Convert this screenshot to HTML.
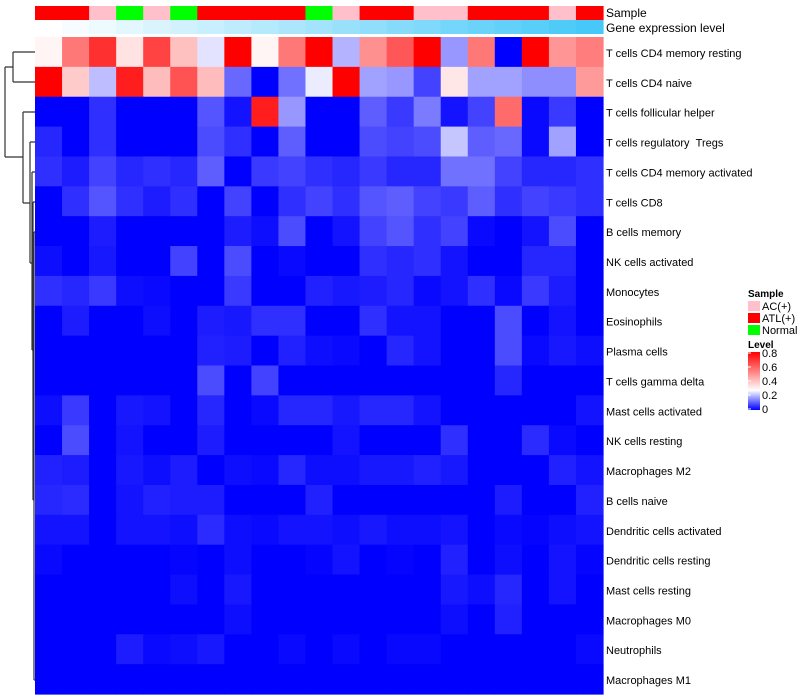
<!DOCTYPE html>
<html><head><meta charset="utf-8"><style>
html,body{margin:0;padding:0;background:#fff;}
svg{display:block;font-family:"Liberation Sans",sans-serif;}
</style></head><body>
<svg id="chart" width="800" height="700" viewBox="0 0 800 700" xmlns="http://www.w3.org/2000/svg">
<g id="dendro" stroke="#333" stroke-width="1.2" fill="none">
<path d="M13,52 H35 M13,82 H35 M13,52 V82"/>
<path d="M5,67 H13 M5,67 V157 M5,157 H23"/>
<path d="M23,112 H35 M23,112 V203 M23,203 H30"/>
<path d="M30,142 H35 M30,142 V263 M30,263 H32"/>
<path d="M32,172 H35 M32,172 V350 M32,350 H33"/>
<path d="M33,202 H35 M33,202 V500 M33,500 H34"/>
<path d="M34,232 H35 M34,232 V680 M34,680 H35"/>
</g>
<g id="cells"></g>
<g id="annot"></g>
<g id="rowlabels" font-size="11" fill="#000"></g>
<text x="606" y="17" font-size="12">Sample</text>
<text x="606" y="32" font-size="12">Gene expression level</text>
<g font-size="11">
<text x="748" y="297" font-weight="bold" font-size="10">Sample</text>
<rect x="748" y="301" width="12" height="10" fill="#FFC0CB"/>
<text x="762" y="310">AC(+)</text>
<rect x="748" y="313" width="12" height="10" fill="#FF0000"/>
<text x="762" y="322">ATL(+)</text>
<rect x="748" y="325" width="12" height="10" fill="#00FF00"/>
<text x="762" y="334">Normal</text>
<text x="748" y="348" font-weight="bold" font-size="10">Level</text>
<defs><linearGradient id="lg" x1="0" y1="1" x2="0" y2="0">
<stop offset="0" stop-color="#0000FF"/><stop offset="0.34" stop-color="#FFFFFF"/><stop offset="1" stop-color="#FF0000"/></linearGradient></defs>
<rect x="748" y="352" width="12" height="58" fill="url(#lg)"/>
<g id="cbticks"></g>
</g>
</svg>
<script>
const rowNames = ["T cells CD4 memory resting","T cells CD4 naive","T cells follicular helper","T cells regulatory  Tregs","T cells CD4 memory activated","T cells CD8","B cells memory","NK cells activated","Monocytes","Eosinophils","Plasma cells","T cells gamma delta","Mast cells activated","NK cells resting","Macrophages M2","B cells naive","Dendritic cells activated","Dendritic cells resting","Mast cells resting","Macrophages M0","Neutrophils","Macrophages M1"];
const sampleGroups = ["ATL(+)","ATL(+)","AC(+)","Normal","AC(+)","Normal","ATL(+)","ATL(+)","ATL(+)","ATL(+)","Normal","AC(+)","ATL(+)","ATL(+)","AC(+)","AC(+)","ATL(+)","ATL(+)","ATL(+)","AC(+)","ATL(+)"];
const geneLevel = [0,1,2,3,4,5,6,7,8,9,10,11,12,13,14,15,16,17,18,19,20];
const levelTicks = [0,0.2,0.4,0.6,0.8];
const cellValues = [
[0.29,0.55,0.7,0.33,0.66,0.4,0.24,0.8,0.29,0.55,0.8,0.19,0.5,0.62,0.8,0.16,0.55,0,0.8,0.49,0.54],
[0.8,0.38,0.2,0.74,0.41,0.63,0.41,0.11,0,0.12,0.25,0.8,0.17,0.16,0.07,0.32,0.17,0.17,0.15,0.15,0.48],
[0,0,0.05,0,0,0,0.09,0.02,0.74,0.16,0,0,0.1,0.06,0.13,0.02,0.07,0.58,0.01,0.06,0],
[0.04,0,0.05,0,0,0,0.08,0.05,0,0.1,0,0,0.08,0.07,0.08,0.21,0.1,0.11,0.01,0.17,0],
[0.05,0.03,0.07,0.04,0.05,0.04,0.1,0,0.06,0.07,0.05,0.04,0.06,0.04,0.04,0.12,0.12,0.07,0.04,0.04,0.05],
[0,0.05,0.09,0.05,0.03,0.05,0,0.07,0,0.05,0.07,0.05,0.09,0.1,0.07,0.06,0.1,0.05,0.07,0.06,0.05],
[0,0,0.03,0,0,0,0,0.03,0.015,0.08,0,0.02,0.07,0.09,0.05,0.07,0.01,0,0.02,0.08,0],
[0.015,0,0.025,0,0,0.07,0,0.08,0,0.01,0,0,0.05,0.04,0.05,0.02,0,0,0.04,0.04,0],
[0.05,0.04,0.06,0.015,0.01,0,0,0.06,0,0,0.035,0.025,0.03,0.04,0.01,0.02,0.05,0.01,0.06,0.03,0],
[0,0.03,0,0,0.015,0,0.03,0.025,0.05,0.05,0,0,0.05,0.02,0.02,0,0,0.08,0,0.02,0],
[0,0,0,0,0,0,0.035,0.03,0,0.035,0.015,0.01,0,0.04,0.02,0,0,0.08,0.01,0.025,0.015],
[0,0,0,0,0,0,0.08,0,0.07,0,0,0,0,0,0,0,0,0.04,0,0,0],
[0.015,0.06,0,0.025,0.02,0,0.04,0,0.01,0.04,0.04,0.025,0.04,0.04,0.02,0,0,0,0,0,0.02],
[0,0.08,0,0.02,0,0,0.03,0,0,0,0,0.02,0,0,0,0.05,0,0,0.045,0.01,0],
[0.035,0.03,0,0.025,0.015,0.03,0,0.015,0.01,0.04,0.015,0.015,0.025,0.025,0.035,0.025,0,0,0,0.035,0.02],
[0.04,0.045,0,0.02,0.035,0.03,0.03,0,0,0,0.035,0,0,0,0,0,0,0.03,0,0,0.035],
[0.02,0.02,0,0.02,0.02,0.015,0.045,0.015,0.01,0.02,0.02,0.015,0.025,0.015,0.015,0.02,0,0.01,0.005,0.015,0.02],
[0.01,0,0,0,0,0.005,0,0.015,0,0,0.005,0.02,0,0.005,0,0.035,0,0.015,0,0.02,0.005],
[0,0,0,0,0,0.015,0,0.025,0,0,0,0,0,0,0,0.025,0.015,0.04,0,0.02,0],
[0,0,0,0,0,0,0,0.015,0,0,0,0,0,0,0,0.015,0,0.035,0,0,0],
[0,0,0,0.03,0.01,0.015,0.025,0,0,0.01,0,0.01,0,0.008,0.008,0,0,0,0,0,0.01],
[0,0,0,0,0,0,0,0,0,0,0,0,0,0,0,0,0,0,0,0,0]
];
const NS="http://www.w3.org/2000/svg";
const X0=35,X1=603,Y0=37,Y1=694;
const vmin=0,vmax=0.8,vmid=0.27;
const cw=(X1-X0)/sampleGroups.length, rh=(Y1-Y0)/rowNames.length;
function xPos(i){return X0+i*cw;}
function yPos(j){return Y0+j*rh;}
function colorOf(v){
  v=Math.max(vmin,Math.min(vmax,v));
  let r,g,b;
  if(v<=vmid){const f=(v-vmin)/(vmid-vmin);r=255*f;g=255*f;b=255;}
  else{const f=(v-vmid)/(vmax-vmid);r=255;g=255*(1-f);b=255*(1-f);}
  return `rgb(${Math.round(r)},${Math.round(g)},${Math.round(b)})`;
}
const sampleColors={"AC(+)":"#FFC0CB","ATL(+)":"#FF0000","Normal":"#00FF00"};
function geneColor(v){
  const mx=Math.max(...geneLevel), f=mx?v/mx:0;
  return `rgb(${Math.round(255-185*f)},${Math.round(255-55*f)},${Math.round(255-7*f)})`;
}
const cells=document.getElementById('cells');
cellValues.forEach((row,j)=>row.forEach((v,i)=>{
  const r=document.createElementNS(NS,'rect');
  r.setAttribute('x',xPos(i));r.setAttribute('y',yPos(j));
  r.setAttribute('width',cw+0.6);r.setAttribute('height',rh+0.6);
  r.setAttribute('fill',colorOf(v));
  
  
  cells.appendChild(r);
}));
const annot=document.getElementById('annot');
sampleGroups.forEach((s,i)=>{
  const r=document.createElementNS(NS,'rect');
  r.setAttribute('x',xPos(i));r.setAttribute('y',6);r.setAttribute('width',cw+0.6);r.setAttribute('height',14);
  r.setAttribute('fill',sampleColors[s]);
  
  
  annot.appendChild(r);
});
geneLevel.forEach((g,i)=>{
  const r=document.createElementNS(NS,'rect');
  r.setAttribute('x',xPos(i));r.setAttribute('y',20);r.setAttribute('width',cw+0.6);r.setAttribute('height',14);
  r.setAttribute('fill',geneColor(g));
  
  
  annot.appendChild(r);
});
const rl=document.getElementById('rowlabels');
rowNames.forEach((n,j)=>{
  const t=document.createElementNS(NS,'text');
  t.setAttribute('x',606);t.setAttribute('y',yPos(j)+rh/2+5);
  t.textContent=n.replace(/  /g,' \u00a0');
  
  
  rl.appendChild(t);
});
const cb=document.getElementById('cbticks');
levelTicks.forEach(v=>{
  const y=410-(v-vmin)/(vmax-vmin)*56-1;
  const l=document.createElementNS(NS,'line');
  l.setAttribute('x1',748);l.setAttribute('x2',751);l.setAttribute('y1',y);l.setAttribute('y2',y);
  l.setAttribute('stroke','#fff');
  
  
  cb.appendChild(l);
  const t=document.createElementNS(NS,'text');
  t.setAttribute('x',762);t.setAttribute('y',y+4);
  t.textContent=String(v);
  
  
  cb.appendChild(t);
});
</script>
</body></html>
